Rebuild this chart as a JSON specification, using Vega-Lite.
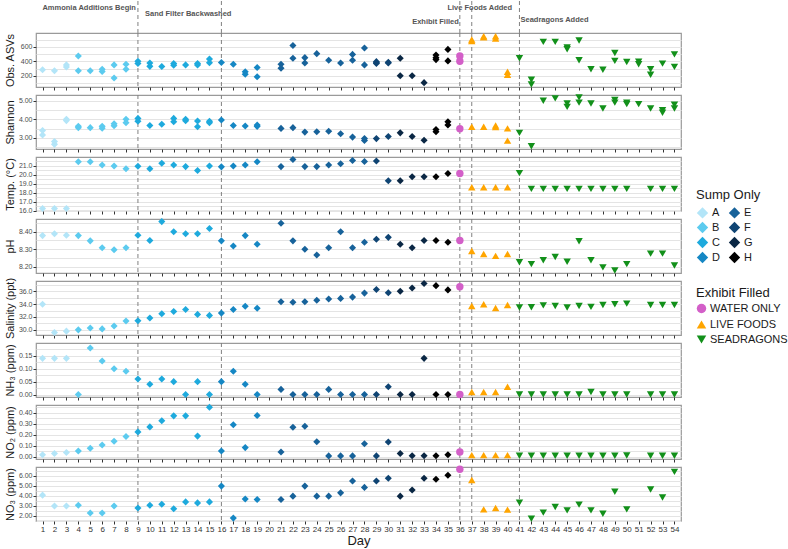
{
  "$schema": "https://vega.github.io/schema/vega-lite/v6.json",
  "padding": {"left": 3, "right": 0, "top": 0, "bottom": 0},
  "background": "white",
  "datasets": {
    "ev": [
      {"d": 9, "t": "Ammonia Additions Begin"},
      {"d": 16, "t": "Sand Filter Backwashed"},
      {"d": 36, "t": "Exhibit Filled"},
      {"d": 37, "t": "Live Foods Added"},
      {"d": 41, "t": "Seadragons Added"}
    ],
    "pts": [
      {"m":"asv","d":1,"v":282,"g":"A"},{"m":"asv","d":2,"v":268,"g":"A"},{"m":"asv","d":3,"v":320,"g":"A"},{"m":"asv","d":3,"v":350,"g":"A"},
      {"m":"asv","d":4,"v":473,"g":"B"},{"m":"asv","d":4,"v":268,"g":"B"},{"m":"asv","d":5,"v":268,"g":"B"},{"m":"asv","d":6,"v":260,"g":"B"},{"m":"asv","d":6,"v":290,"g":"B"},{"m":"asv","d":7,"v":350,"g":"B"},{"m":"asv","d":7,"v":168,"g":"B"},{"m":"asv","d":8,"v":359,"g":"B"},{"m":"asv","d":8,"v":291,"g":"B"},
      {"m":"asv","d":9,"v":400,"g":"C"},{"m":"asv","d":9,"v":370,"g":"C"},{"m":"asv","d":10,"v":375,"g":"C"},{"m":"asv","d":10,"v":330,"g":"C"},{"m":"asv","d":11,"v":327,"g":"C"},{"m":"asv","d":12,"v":370,"g":"C"},{"m":"asv","d":12,"v":345,"g":"C"},{"m":"asv","d":13,"v":350,"g":"C"},{"m":"asv","d":14,"v":370,"g":"C"},{"m":"asv","d":14,"v":350,"g":"C"},{"m":"asv","d":15,"v":430,"g":"C"},{"m":"asv","d":15,"v":380,"g":"C"},
      {"m":"asv","d":16,"v":382,"g":"D"},{"m":"asv","d":17,"v":359,"g":"D"},{"m":"asv","d":18,"v":255,"g":"D"},{"m":"asv","d":18,"v":220,"g":"D"},{"m":"asv","d":19,"v":314,"g":"D"},{"m":"asv","d":19,"v":186,"g":"D"},
      {"m":"asv","d":21,"v":359,"g":"E"},{"m":"asv","d":21,"v":305,"g":"E"},{"m":"asv","d":22,"v":618,"g":"E"},{"m":"asv","d":22,"v":441,"g":"E"},{"m":"asv","d":23,"v":450,"g":"E"},{"m":"asv","d":23,"v":377,"g":"E"},{"m":"asv","d":24,"v":505,"g":"E"},{"m":"asv","d":25,"v":414,"g":"E"},{"m":"asv","d":26,"v":377,"g":"E"},{"m":"asv","d":27,"v":495,"g":"E"},{"m":"asv","d":27,"v":414,"g":"E"},{"m":"asv","d":28,"v":582,"g":"E"},{"m":"asv","d":28,"v":350,"g":"E"},
      {"m":"asv","d":29,"v":395,"g":"F"},{"m":"asv","d":29,"v":380,"g":"F"},{"m":"asv","d":29,"v":370,"g":"F"},{"m":"asv","d":30,"v":385,"g":"F"},{"m":"asv","d":30,"v":375,"g":"F"},
      {"m":"asv","d":31,"v":441,"g":"G"},{"m":"asv","d":31,"v":200,"g":"G"},{"m":"asv","d":32,"v":200,"g":"G"},{"m":"asv","d":33,"v":105,"g":"G"},
      {"m":"asv","d":34,"v":486,"g":"H"},{"m":"asv","d":34,"v":450,"g":"H"},{"m":"asv","d":34,"v":423,"g":"H"},{"m":"asv","d":35,"v":564,"g":"H"},{"m":"asv","d":35,"v":405,"g":"H"},
      {"m":"asv","d":36,"v":473,"g":"WATER ONLY"},{"m":"asv","d":36,"v":400,"g":"WATER ONLY"},
      {"m":"asv","d":37,"v":700,"g":"LIVE FOODS"},{"m":"asv","d":37,"v":680,"g":"LIVE FOODS"},{"m":"asv","d":38,"v":745,"g":"LIVE FOODS"},{"m":"asv","d":38,"v":730,"g":"LIVE FOODS"},{"m":"asv","d":39,"v":745,"g":"LIVE FOODS"},{"m":"asv","d":39,"v":715,"g":"LIVE FOODS"},{"m":"asv","d":40,"v":255,"g":"LIVE FOODS"},{"m":"asv","d":40,"v":215,"g":"LIVE FOODS"},
      {"m":"asv","d":41,"v":441,"g":"SEADRAGONS"},{"m":"asv","d":42,"v":145,"g":"SEADRAGONS"},{"m":"asv","d":42,"v":80,"g":"SEADRAGONS"},{"m":"asv","d":43,"v":668,"g":"SEADRAGONS"},{"m":"asv","d":44,"v":668,"g":"SEADRAGONS"},{"m":"asv","d":45,"v":590,"g":"SEADRAGONS"},{"m":"asv","d":45,"v":565,"g":"SEADRAGONS"},{"m":"asv","d":46,"v":686,"g":"SEADRAGONS"},{"m":"asv","d":46,"v":414,"g":"SEADRAGONS"},{"m":"asv","d":47,"v":291,"g":"SEADRAGONS"},{"m":"asv","d":48,"v":282,"g":"SEADRAGONS"},{"m":"asv","d":49,"v":514,"g":"SEADRAGONS"},{"m":"asv","d":49,"v":405,"g":"SEADRAGONS"},{"m":"asv","d":50,"v":391,"g":"SEADRAGONS"},{"m":"asv","d":51,"v":395,"g":"SEADRAGONS"},{"m":"asv","d":51,"v":359,"g":"SEADRAGONS"},{"m":"asv","d":52,"v":291,"g":"SEADRAGONS"},{"m":"asv","d":52,"v":214,"g":"SEADRAGONS"},{"m":"asv","d":53,"v":368,"g":"SEADRAGONS"},{"m":"asv","d":54,"v":495,"g":"SEADRAGONS"},{"m":"asv","d":54,"v":323,"g":"SEADRAGONS"},

      {"m":"sh","d":1,"v":3.40,"g":"A"},{"m":"sh","d":1,"v":3.15,"g":"A"},{"m":"sh","d":2,"v":2.80,"g":"A"},{"m":"sh","d":2,"v":2.65,"g":"A"},{"m":"sh","d":3,"v":4.00,"g":"A"},{"m":"sh","d":3,"v":3.93,"g":"A"},
      {"m":"sh","d":4,"v":3.62,"g":"B"},{"m":"sh","d":4,"v":3.55,"g":"B"},{"m":"sh","d":5,"v":3.55,"g":"B"},{"m":"sh","d":6,"v":3.62,"g":"B"},{"m":"sh","d":6,"v":3.52,"g":"B"},{"m":"sh","d":7,"v":3.76,"g":"B"},{"m":"sh","d":7,"v":3.65,"g":"B"},{"m":"sh","d":8,"v":4.00,"g":"B"},{"m":"sh","d":8,"v":3.82,"g":"B"},
      {"m":"sh","d":9,"v":4.05,"g":"C"},{"m":"sh","d":9,"v":3.90,"g":"C"},{"m":"sh","d":10,"v":3.67,"g":"C"},{"m":"sh","d":11,"v":3.73,"g":"C"},{"m":"sh","d":12,"v":4.05,"g":"C"},{"m":"sh","d":12,"v":3.87,"g":"C"},{"m":"sh","d":13,"v":4.00,"g":"C"},{"m":"sh","d":13,"v":3.92,"g":"C"},{"m":"sh","d":14,"v":3.91,"g":"C"},{"m":"sh","d":14,"v":3.60,"g":"C"},{"m":"sh","d":15,"v":3.90,"g":"C"},{"m":"sh","d":15,"v":3.82,"g":"C"},
      {"m":"sh","d":16,"v":3.96,"g":"D"},{"m":"sh","d":17,"v":3.67,"g":"D"},{"m":"sh","d":18,"v":3.64,"g":"D"},{"m":"sh","d":19,"v":3.69,"g":"D"},{"m":"sh","d":19,"v":3.62,"g":"D"},
      {"m":"sh","d":21,"v":3.51,"g":"E"},{"m":"sh","d":22,"v":3.55,"g":"E"},{"m":"sh","d":23,"v":3.31,"g":"E"},{"m":"sh","d":24,"v":3.33,"g":"E"},{"m":"sh","d":25,"v":3.36,"g":"E"},{"m":"sh","d":26,"v":3.22,"g":"E"},{"m":"sh","d":27,"v":3.04,"g":"E"},{"m":"sh","d":28,"v":2.96,"g":"E"},{"m":"sh","d":28,"v":2.86,"g":"E"},
      {"m":"sh","d":29,"v":2.96,"g":"F"},{"m":"sh","d":30,"v":3.07,"g":"F"},{"m":"sh","d":31,"v":3.27,"g":"G"},{"m":"sh","d":32,"v":3.07,"g":"G"},{"m":"sh","d":33,"v":2.87,"g":"G"},
      {"m":"sh","d":34,"v":3.45,"g":"H"},{"m":"sh","d":34,"v":3.33,"g":"H"},{"m":"sh","d":35,"v":3.87,"g":"H"},{"m":"sh","d":35,"v":3.69,"g":"H"},
      {"m":"sh","d":36,"v":3.49,"g":"WATER ONLY"},
      {"m":"sh","d":37,"v":3.60,"g":"LIVE FOODS"},{"m":"sh","d":38,"v":3.60,"g":"LIVE FOODS"},{"m":"sh","d":39,"v":3.67,"g":"LIVE FOODS"},{"m":"sh","d":39,"v":3.58,"g":"LIVE FOODS"},{"m":"sh","d":40,"v":3.51,"g":"LIVE FOODS"},{"m":"sh","d":40,"v":2.85,"g":"LIVE FOODS"},
      {"m":"sh","d":41,"v":3.27,"g":"SEADRAGONS"},{"m":"sh","d":42,"v":2.55,"g":"SEADRAGONS"},{"m":"sh","d":43,"v":5.00,"g":"SEADRAGONS"},{"m":"sh","d":44,"v":5.13,"g":"SEADRAGONS"},{"m":"sh","d":45,"v":4.85,"g":"SEADRAGONS"},{"m":"sh","d":45,"v":4.67,"g":"SEADRAGONS"},{"m":"sh","d":46,"v":5.18,"g":"SEADRAGONS"},{"m":"sh","d":46,"v":4.90,"g":"SEADRAGONS"},{"m":"sh","d":47,"v":4.85,"g":"SEADRAGONS"},{"m":"sh","d":48,"v":4.58,"g":"SEADRAGONS"},{"m":"sh","d":49,"v":5.04,"g":"SEADRAGONS"},{"m":"sh","d":49,"v":4.90,"g":"SEADRAGONS"},{"m":"sh","d":50,"v":4.90,"g":"SEADRAGONS"},{"m":"sh","d":50,"v":4.82,"g":"SEADRAGONS"},{"m":"sh","d":51,"v":4.82,"g":"SEADRAGONS"},{"m":"sh","d":52,"v":4.58,"g":"SEADRAGONS"},{"m":"sh","d":53,"v":4.49,"g":"SEADRAGONS"},{"m":"sh","d":53,"v":4.35,"g":"SEADRAGONS"},{"m":"sh","d":54,"v":4.78,"g":"SEADRAGONS"},{"m":"sh","d":54,"v":4.58,"g":"SEADRAGONS"},

      {"m":"tp","d":1,"v":16.25,"g":"A"},{"m":"tp","d":2,"v":16.25,"g":"A"},{"m":"tp","d":3,"v":16.25,"g":"A"},
      {"m":"tp","d":4,"v":21.47,"g":"B"},{"m":"tp","d":5,"v":21.47,"g":"B"},{"m":"tp","d":6,"v":21.1,"g":"B"},{"m":"tp","d":7,"v":21.0,"g":"B"},{"m":"tp","d":8,"v":20.7,"g":"B"},
      {"m":"tp","d":9,"v":20.96,"g":"C"},{"m":"tp","d":10,"v":20.7,"g":"C"},{"m":"tp","d":11,"v":21.3,"g":"C"},{"m":"tp","d":12,"v":21.1,"g":"C"},{"m":"tp","d":13,"v":20.93,"g":"C"},{"m":"tp","d":14,"v":20.5,"g":"C"},{"m":"tp","d":15,"v":21.0,"g":"C"},
      {"m":"tp","d":16,"v":20.9,"g":"D"},{"m":"tp","d":17,"v":21.0,"g":"D"},{"m":"tp","d":18,"v":21.1,"g":"D"},{"m":"tp","d":19,"v":21.47,"g":"D"},
      {"m":"tp","d":21,"v":20.93,"g":"E"},{"m":"tp","d":22,"v":21.73,"g":"E"},{"m":"tp","d":23,"v":20.93,"g":"E"},{"m":"tp","d":24,"v":20.93,"g":"E"},{"m":"tp","d":25,"v":21.1,"g":"E"},{"m":"tp","d":26,"v":21.25,"g":"E"},{"m":"tp","d":27,"v":21.6,"g":"E"},{"m":"tp","d":28,"v":21.5,"g":"E"},
      {"m":"tp","d":29,"v":21.55,"g":"F"},{"m":"tp","d":30,"v":19.36,"g":"F"},{"m":"tp","d":31,"v":19.36,"g":"G"},{"m":"tp","d":32,"v":19.8,"g":"G"},{"m":"tp","d":33,"v":19.8,"g":"G"},
      {"m":"tp","d":34,"v":19.8,"g":"H"},{"m":"tp","d":35,"v":20.16,"g":"H"},
      {"m":"tp","d":36,"v":20.16,"g":"WATER ONLY"},
      {"m":"tp","d":37,"v":18.63,"g":"LIVE FOODS"},{"m":"tp","d":38,"v":18.63,"g":"LIVE FOODS"},{"m":"tp","d":39,"v":18.63,"g":"LIVE FOODS"},{"m":"tp","d":40,"v":18.63,"g":"LIVE FOODS"},
      {"m":"tp","d":41,"v":20.2,"g":"SEADRAGONS"},{"m":"tp","d":42,"v":18.45,"g":"SEADRAGONS"},{"m":"tp","d":43,"v":18.45,"g":"SEADRAGONS"},{"m":"tp","d":44,"v":18.45,"g":"SEADRAGONS"},{"m":"tp","d":45,"v":18.45,"g":"SEADRAGONS"},{"m":"tp","d":46,"v":18.45,"g":"SEADRAGONS"},{"m":"tp","d":47,"v":18.45,"g":"SEADRAGONS"},{"m":"tp","d":48,"v":18.45,"g":"SEADRAGONS"},{"m":"tp","d":49,"v":18.45,"g":"SEADRAGONS"},{"m":"tp","d":50,"v":18.45,"g":"SEADRAGONS"},{"m":"tp","d":52,"v":18.45,"g":"SEADRAGONS"},{"m":"tp","d":53,"v":18.45,"g":"SEADRAGONS"},{"m":"tp","d":54,"v":18.45,"g":"SEADRAGONS"},

      {"m":"ph","d":1,"v":8.378,"g":"A"},{"m":"ph","d":2,"v":8.389,"g":"A"},{"m":"ph","d":3,"v":8.38,"g":"A"},
      {"m":"ph","d":4,"v":8.378,"g":"B"},{"m":"ph","d":5,"v":8.348,"g":"B"},{"m":"ph","d":6,"v":8.308,"g":"B"},{"m":"ph","d":7,"v":8.297,"g":"B"},{"m":"ph","d":8,"v":8.308,"g":"B"},
      {"m":"ph","d":9,"v":8.38,"g":"C"},{"m":"ph","d":10,"v":8.35,"g":"C"},{"m":"ph","d":11,"v":8.458,"g":"C"},{"m":"ph","d":12,"v":8.40,"g":"C"},{"m":"ph","d":13,"v":8.389,"g":"C"},{"m":"ph","d":14,"v":8.389,"g":"C"},{"m":"ph","d":15,"v":8.419,"g":"C"},
      {"m":"ph","d":16,"v":8.348,"g":"D"},{"m":"ph","d":17,"v":8.318,"g":"D"},{"m":"ph","d":18,"v":8.378,"g":"D"},{"m":"ph","d":19,"v":8.329,"g":"D"},
      {"m":"ph","d":21,"v":8.449,"g":"E"},{"m":"ph","d":22,"v":8.348,"g":"E"},{"m":"ph","d":23,"v":8.30,"g":"E"},{"m":"ph","d":24,"v":8.267,"g":"E"},{"m":"ph","d":25,"v":8.308,"g":"E"},{"m":"ph","d":26,"v":8.40,"g":"E"},{"m":"ph","d":27,"v":8.308,"g":"E"},{"m":"ph","d":28,"v":8.34,"g":"E"},
      {"m":"ph","d":29,"v":8.357,"g":"F"},{"m":"ph","d":30,"v":8.368,"g":"F"},{"m":"ph","d":31,"v":8.329,"g":"G"},{"m":"ph","d":32,"v":8.308,"g":"G"},{"m":"ph","d":33,"v":8.35,"g":"G"},
      {"m":"ph","d":34,"v":8.35,"g":"H"},{"m":"ph","d":35,"v":8.34,"g":"H"},
      {"m":"ph","d":36,"v":8.35,"g":"WATER ONLY"},
      {"m":"ph","d":37,"v":8.29,"g":"LIVE FOODS"},{"m":"ph","d":38,"v":8.273,"g":"LIVE FOODS"},{"m":"ph","d":39,"v":8.262,"g":"LIVE FOODS"},{"m":"ph","d":40,"v":8.273,"g":"LIVE FOODS"},
      {"m":"ph","d":41,"v":8.226,"g":"SEADRAGONS"},{"m":"ph","d":42,"v":8.215,"g":"SEADRAGONS"},{"m":"ph","d":43,"v":8.237,"g":"SEADRAGONS"},{"m":"ph","d":44,"v":8.256,"g":"SEADRAGONS"},{"m":"ph","d":45,"v":8.228,"g":"SEADRAGONS"},{"m":"ph","d":46,"v":8.346,"g":"SEADRAGONS"},{"m":"ph","d":47,"v":8.237,"g":"SEADRAGONS"},{"m":"ph","d":48,"v":8.196,"g":"SEADRAGONS"},{"m":"ph","d":49,"v":8.178,"g":"SEADRAGONS"},{"m":"ph","d":50,"v":8.215,"g":"SEADRAGONS"},{"m":"ph","d":52,"v":8.275,"g":"SEADRAGONS"},{"m":"ph","d":53,"v":8.275,"g":"SEADRAGONS"},{"m":"ph","d":54,"v":8.207,"g":"SEADRAGONS"},

      {"m":"sal","d":1,"v":33.97,"g":"A"},{"m":"sal","d":2,"v":29.6,"g":"A"},{"m":"sal","d":3,"v":29.8,"g":"A"},
      {"m":"sal","d":4,"v":30.0,"g":"B"},{"m":"sal","d":5,"v":30.3,"g":"B"},{"m":"sal","d":6,"v":30.15,"g":"B"},{"m":"sal","d":7,"v":30.6,"g":"B"},{"m":"sal","d":8,"v":31.37,"g":"B"},
      {"m":"sal","d":9,"v":31.42,"g":"C"},{"m":"sal","d":10,"v":31.83,"g":"C"},{"m":"sal","d":11,"v":32.5,"g":"C"},{"m":"sal","d":12,"v":32.85,"g":"C"},{"m":"sal","d":13,"v":33.15,"g":"C"},{"m":"sal","d":14,"v":32.4,"g":"C"},{"m":"sal","d":15,"v":32.24,"g":"C"},
      {"m":"sal","d":16,"v":32.6,"g":"D"},{"m":"sal","d":17,"v":33.15,"g":"D"},{"m":"sal","d":18,"v":33.66,"g":"D"},{"m":"sal","d":19,"v":33.36,"g":"D"},
      {"m":"sal","d":21,"v":34.37,"g":"E"},{"m":"sal","d":22,"v":34.27,"g":"E"},{"m":"sal","d":23,"v":34.37,"g":"E"},{"m":"sal","d":24,"v":34.58,"g":"E"},{"m":"sal","d":25,"v":34.78,"g":"E"},{"m":"sal","d":26,"v":34.88,"g":"E"},{"m":"sal","d":27,"v":35.08,"g":"E"},{"m":"sal","d":28,"v":35.7,"g":"E"},
      {"m":"sal","d":29,"v":36.25,"g":"F"},{"m":"sal","d":30,"v":35.75,"g":"F"},{"m":"sal","d":31,"v":36.0,"g":"G"},{"m":"sal","d":32,"v":36.5,"g":"G"},{"m":"sal","d":33,"v":37.2,"g":"G"},
      {"m":"sal","d":34,"v":36.86,"g":"H"},{"m":"sal","d":35,"v":36.2,"g":"H"},
      {"m":"sal","d":36,"v":36.7,"g":"WATER ONLY"},
      {"m":"sal","d":37,"v":33.7,"g":"LIVE FOODS"},{"m":"sal","d":38,"v":33.97,"g":"LIVE FOODS"},{"m":"sal","d":39,"v":33.4,"g":"LIVE FOODS"},{"m":"sal","d":40,"v":33.86,"g":"LIVE FOODS"},
      {"m":"sal","d":41,"v":33.46,"g":"SEADRAGONS"},{"m":"sal","d":42,"v":33.5,"g":"SEADRAGONS"},{"m":"sal","d":43,"v":33.8,"g":"SEADRAGONS"},{"m":"sal","d":44,"v":33.7,"g":"SEADRAGONS"},{"m":"sal","d":45,"v":33.46,"g":"SEADRAGONS"},{"m":"sal","d":46,"v":33.7,"g":"SEADRAGONS"},{"m":"sal","d":47,"v":33.56,"g":"SEADRAGONS"},{"m":"sal","d":48,"v":33.86,"g":"SEADRAGONS"},{"m":"sal","d":49,"v":33.97,"g":"SEADRAGONS"},{"m":"sal","d":50,"v":34.07,"g":"SEADRAGONS"},{"m":"sal","d":52,"v":33.86,"g":"SEADRAGONS"},{"m":"sal","d":53,"v":33.86,"g":"SEADRAGONS"},{"m":"sal","d":54,"v":33.86,"g":"SEADRAGONS"},

      {"m":"nh3","d":1,"v":0.14,"g":"A"},{"m":"nh3","d":2,"v":0.14,"g":"A"},{"m":"nh3","d":3,"v":0.14,"g":"A"},
      {"m":"nh3","d":4,"v":0.0,"g":"B"},{"m":"nh3","d":5,"v":0.18,"g":"B"},{"m":"nh3","d":6,"v":0.13,"g":"B"},{"m":"nh3","d":7,"v":0.10,"g":"B"},{"m":"nh3","d":8,"v":0.09,"g":"B"},
      {"m":"nh3","d":9,"v":0.06,"g":"C"},{"m":"nh3","d":10,"v":0.04,"g":"C"},{"m":"nh3","d":11,"v":0.06,"g":"C"},{"m":"nh3","d":12,"v":0.05,"g":"C"},{"m":"nh3","d":13,"v":0.0,"g":"C"},{"m":"nh3","d":14,"v":0.05,"g":"C"},{"m":"nh3","d":15,"v":0.0,"g":"C"},
      {"m":"nh3","d":16,"v":0.05,"g":"D"},{"m":"nh3","d":17,"v":0.09,"g":"D"},{"m":"nh3","d":18,"v":0.04,"g":"D"},{"m":"nh3","d":19,"v":0.0,"g":"D"},
      {"m":"nh3","d":21,"v":0.02,"g":"E"},{"m":"nh3","d":22,"v":0.0,"g":"E"},{"m":"nh3","d":23,"v":0.0,"g":"E"},{"m":"nh3","d":24,"v":0.0,"g":"E"},{"m":"nh3","d":25,"v":0.02,"g":"E"},{"m":"nh3","d":26,"v":0.0,"g":"E"},{"m":"nh3","d":27,"v":0.0,"g":"E"},{"m":"nh3","d":28,"v":0.0,"g":"E"},
      {"m":"nh3","d":29,"v":0.0,"g":"F"},{"m":"nh3","d":30,"v":0.03,"g":"F"},{"m":"nh3","d":31,"v":0.0,"g":"G"},{"m":"nh3","d":32,"v":0.0,"g":"G"},{"m":"nh3","d":33,"v":0.14,"g":"G"},
      {"m":"nh3","d":34,"v":0.0,"g":"H"},{"m":"nh3","d":35,"v":0.0,"g":"H"},
      {"m":"nh3","d":36,"v":0.0,"g":"WATER ONLY"},
      {"m":"nh3","d":37,"v":0.01,"g":"LIVE FOODS"},{"m":"nh3","d":38,"v":0.01,"g":"LIVE FOODS"},{"m":"nh3","d":39,"v":0.01,"g":"LIVE FOODS"},{"m":"nh3","d":40,"v":0.03,"g":"LIVE FOODS"},
      {"m":"nh3","d":41,"v":0.0,"g":"SEADRAGONS"},{"m":"nh3","d":42,"v":0.0,"g":"SEADRAGONS"},{"m":"nh3","d":43,"v":0.0,"g":"SEADRAGONS"},{"m":"nh3","d":44,"v":0.0,"g":"SEADRAGONS"},{"m":"nh3","d":45,"v":0.0,"g":"SEADRAGONS"},{"m":"nh3","d":46,"v":0.0,"g":"SEADRAGONS"},{"m":"nh3","d":47,"v":0.01,"g":"SEADRAGONS"},{"m":"nh3","d":48,"v":0.0,"g":"SEADRAGONS"},{"m":"nh3","d":49,"v":0.0,"g":"SEADRAGONS"},{"m":"nh3","d":50,"v":0.0,"g":"SEADRAGONS"},{"m":"nh3","d":52,"v":0.0,"g":"SEADRAGONS"},{"m":"nh3","d":53,"v":0.0,"g":"SEADRAGONS"},{"m":"nh3","d":54,"v":0.0,"g":"SEADRAGONS"},

      {"m":"no2","d":1,"v":0.018,"g":"A"},{"m":"no2","d":2,"v":0.03,"g":"A"},{"m":"no2","d":3,"v":0.038,"g":"A"},
      {"m":"no2","d":4,"v":0.053,"g":"B"},{"m":"no2","d":5,"v":0.077,"g":"B"},{"m":"no2","d":6,"v":0.107,"g":"B"},{"m":"no2","d":7,"v":0.14,"g":"B"},{"m":"no2","d":8,"v":0.184,"g":"B"},
      {"m":"no2","d":9,"v":0.225,"g":"C"},{"m":"no2","d":10,"v":0.27,"g":"C"},{"m":"no2","d":11,"v":0.326,"g":"C"},{"m":"no2","d":12,"v":0.37,"g":"C"},{"m":"no2","d":13,"v":0.37,"g":"C"},{"m":"no2","d":14,"v":0.187,"g":"C"},{"m":"no2","d":15,"v":0.447,"g":"C"},
      {"m":"no2","d":16,"v":0.053,"g":"D"},{"m":"no2","d":17,"v":0.29,"g":"D"},{"m":"no2","d":18,"v":0.083,"g":"D"},{"m":"no2","d":19,"v":0.373,"g":"D"},
      {"m":"no2","d":21,"v":0.044,"g":"E"},{"m":"no2","d":22,"v":0.267,"g":"E"},{"m":"no2","d":23,"v":0.276,"g":"E"},{"m":"no2","d":24,"v":0.136,"g":"E"},{"m":"no2","d":25,"v":0.008,"g":"E"},{"m":"no2","d":26,"v":0.008,"g":"E"},{"m":"no2","d":27,"v":0.008,"g":"E"},{"m":"no2","d":28,"v":0.118,"g":"E"},
      {"m":"no2","d":29,"v":0.008,"g":"F"},{"m":"no2","d":30,"v":0.133,"g":"F"},{"m":"no2","d":31,"v":0.03,"g":"G"},{"m":"no2","d":32,"v":0.01,"g":"G"},{"m":"no2","d":33,"v":0.01,"g":"G"},
      {"m":"no2","d":34,"v":0.01,"g":"H"},{"m":"no2","d":35,"v":0.018,"g":"H"},
      {"m":"no2","d":36,"v":0.044,"g":"WATER ONLY"},
      {"m":"no2","d":37,"v":0.015,"g":"LIVE FOODS"},{"m":"no2","d":38,"v":0.015,"g":"LIVE FOODS"},{"m":"no2","d":39,"v":0.015,"g":"LIVE FOODS"},{"m":"no2","d":40,"v":0.015,"g":"LIVE FOODS"},
      {"m":"no2","d":41,"v":0.01,"g":"SEADRAGONS"},{"m":"no2","d":42,"v":0.01,"g":"SEADRAGONS"},{"m":"no2","d":43,"v":0.01,"g":"SEADRAGONS"},{"m":"no2","d":44,"v":0.01,"g":"SEADRAGONS"},{"m":"no2","d":45,"v":0.01,"g":"SEADRAGONS"},{"m":"no2","d":46,"v":0.01,"g":"SEADRAGONS"},{"m":"no2","d":47,"v":0.01,"g":"SEADRAGONS"},{"m":"no2","d":48,"v":0.01,"g":"SEADRAGONS"},{"m":"no2","d":49,"v":0.01,"g":"SEADRAGONS"},{"m":"no2","d":50,"v":0.012,"g":"SEADRAGONS"},{"m":"no2","d":52,"v":0.01,"g":"SEADRAGONS"},{"m":"no2","d":53,"v":0.01,"g":"SEADRAGONS"},{"m":"no2","d":54,"v":0.01,"g":"SEADRAGONS"},

      {"m":"no3","d":1,"v":4.07,"g":"A"},{"m":"no3","d":2,"v":2.98,"g":"A"},{"m":"no3","d":3,"v":2.98,"g":"A"},
      {"m":"no3","d":4,"v":3.05,"g":"B"},{"m":"no3","d":5,"v":2.27,"g":"B"},{"m":"no3","d":6,"v":2.27,"g":"B"},{"m":"no3","d":7,"v":2.98,"g":"B"},
      {"m":"no3","d":9,"v":2.78,"g":"C"},{"m":"no3","d":10,"v":3.05,"g":"C"},{"m":"no3","d":11,"v":3.15,"g":"C"},{"m":"no3","d":12,"v":2.71,"g":"C"},{"m":"no3","d":13,"v":3.39,"g":"C"},{"m":"no3","d":14,"v":3.29,"g":"C"},{"m":"no3","d":15,"v":3.39,"g":"C"},
      {"m":"no3","d":16,"v":4.98,"g":"D"},{"m":"no3","d":17,"v":1.76,"g":"D"},{"m":"no3","d":18,"v":3.69,"g":"D"},{"m":"no3","d":19,"v":3.63,"g":"D"},
      {"m":"no3","d":21,"v":3.63,"g":"E"},{"m":"no3","d":22,"v":3.97,"g":"E"},{"m":"no3","d":23,"v":4.98,"g":"E"},{"m":"no3","d":24,"v":3.97,"g":"E"},{"m":"no3","d":25,"v":3.97,"g":"E"},{"m":"no3","d":26,"v":4.3,"g":"E"},{"m":"no3","d":27,"v":5.49,"g":"E"},{"m":"no3","d":28,"v":4.85,"g":"E"},
      {"m":"no3","d":29,"v":5.49,"g":"F"},{"m":"no3","d":30,"v":5.76,"g":"F"},{"m":"no3","d":31,"v":3.97,"g":"G"},{"m":"no3","d":32,"v":4.58,"g":"G"},{"m":"no3","d":33,"v":5.76,"g":"G"},
      {"m":"no3","d":34,"v":5.66,"g":"H"},{"m":"no3","d":35,"v":6.07,"g":"H"},
      {"m":"no3","d":36,"v":6.68,"g":"WATER ONLY"},
      {"m":"no3","d":37,"v":5.59,"g":"LIVE FOODS"},{"m":"no3","d":38,"v":2.64,"g":"LIVE FOODS"},{"m":"no3","d":39,"v":2.78,"g":"LIVE FOODS"},{"m":"no3","d":40,"v":2.61,"g":"LIVE FOODS"},
      {"m":"no3","d":41,"v":3.32,"g":"SEADRAGONS"},{"m":"no3","d":42,"v":1.69,"g":"SEADRAGONS"},{"m":"no3","d":43,"v":2.31,"g":"SEADRAGONS"},{"m":"no3","d":44,"v":2.88,"g":"SEADRAGONS"},{"m":"no3","d":45,"v":2.54,"g":"SEADRAGONS"},{"m":"no3","d":46,"v":3.12,"g":"SEADRAGONS"},{"m":"no3","d":47,"v":2.54,"g":"SEADRAGONS"},{"m":"no3","d":48,"v":2.2,"g":"SEADRAGONS"},{"m":"no3","d":49,"v":4.41,"g":"SEADRAGONS"},{"m":"no3","d":50,"v":2.64,"g":"SEADRAGONS"},{"m":"no3","d":52,"v":4.64,"g":"SEADRAGONS"},{"m":"no3","d":53,"v":3.83,"g":"SEADRAGONS"},{"m":"no3","d":54,"v":6.41,"g":"SEADRAGONS"}
    ]
  },
  "spacing": 0,
  "bounds": "flush",
  "vconcat": [
    {
      "width": 645, "height": 32,
      "view": {"stroke": null},
      "data": {"name": "ev"},
      "encoding": {"x": {"field": "d", "type": "quantitative", "scale": {"domain": [0.45, 54.55], "nice": false}, "axis": null}},
      "layer": [
        {"mark": {"type": "rule", "strokeDash": [4, 3], "color": "#808080", "strokeWidth": 1}},
        {"transform": [{"filter": "datum.d == 9"}], "mark": {"type": "text", "align": "right", "baseline": "middle", "dx": -2, "dy": -9, "fontSize": 7.5, "fontWeight": "bold", "color": "#555555"}, "encoding": {"text": {"field": "t"}}},
        {"transform": [{"filter": "datum.d == 16"}], "mark": {"type": "text", "align": "right", "baseline": "middle", "dx": 10, "dy": -3, "fontSize": 7.5, "fontWeight": "bold", "color": "#555555"}, "encoding": {"text": {"field": "t"}}},
        {"transform": [{"filter": "datum.d == 36"}], "mark": {"type": "text", "align": "right", "baseline": "middle", "dx": -1, "dy": 5, "fontSize": 7.5, "fontWeight": "bold", "color": "#555555"}, "encoding": {"text": {"field": "t"}}},
        {"transform": [{"filter": "datum.d == 37"}], "mark": {"type": "text", "align": "center", "baseline": "middle", "dx": 8, "dy": -9, "fontSize": 7.5, "fontWeight": "bold", "color": "#555555"}, "encoding": {"text": {"field": "t"}}},
        {"transform": [{"filter": "datum.d == 41"}], "mark": {"type": "text", "align": "left", "baseline": "middle", "dx": 1, "dy": 3, "fontSize": 7.5, "fontWeight": "bold", "color": "#555555"}, "encoding": {"text": {"field": "t"}}}
      ]
    },
    {
      "spacing": 8,
      "bounds": "flush",
      "vconcat": [
        {
          "width": 645, "height": 54,
          "encoding": {"x": {"field": "d", "type": "quantitative", "scale": {"domain": [0.45, 54.55], "nice": false}, "axis": {"values": [1,2,3,4,5,6,7,8,9,10,11,12,13,14,15,16,17,18,19,20,21,22,23,24,25,26,27,28,29,30,31,32,33,34,35,36,37,38,39,40,41,42,43,44,45,46,47,48,49,50,51,52,53,54], "labels": false, "title": null, "grid": false, "tickSize": 3}}},
          "layer": [
            {"data": {"name": "ev"}, "mark": {"type": "rule", "strokeDash": [4, 3], "color": "#808080", "strokeWidth": 1}},
            {"data": {"name": "pts"}, "transform": [{"filter": "datum.m == 'asv' && length(datum.g) == 1"}],
             "mark": {"type": "point", "filled": true, "shape": "diamond", "size": 50, "opacity": 1},
             "encoding": {
               "y": {"field": "v", "type": "quantitative", "scale": {"domain": [45, 790], "nice": false, "zero": false},
                 "axis": {"title": "Obs. ASVs", "values": [200,400,600], "format": "d", "labelOverlap": false, "labelBound": false}},
               "color": {"field": "g", "type": "nominal", "scale": {"domain": ["A","B","C","D","E","F","G","H"], "range": ["#b3e5f8","#5ccbef","#1eaadd","#1587c4","#17629a","#0f4473","#0a2744","#000000"]},
                 "legend": {"title": "Sump Only", "orient": "none", "legendX": 660, "legendY": 188, "columns": 2, "symbolType": "diamond", "symbolSize": 130, "columnPadding": 8, "rowPadding": 2, "titleFontSize": 13, "labelFontSize": 11, "titleFontWeight": "normal", "titlePadding": 4, "labelOffset": 3, "padding": 0}}}},
            {"data": {"name": "pts"}, "transform": [{"filter": "datum.m == 'asv' && length(datum.g) > 1"}],
             "mark": {"type": "point", "filled": true, "size": 55, "opacity": 1},
             "encoding": {
               "y": {"field": "v", "type": "quantitative", "axis": null},
               "fill": {"field": "g", "type": "nominal", "scale": {"domain": ["WATER ONLY","LIVE FOODS","SEADRAGONS"], "range": ["#d35fc8","#ffa500","#12901a"]},
                 "legend": {"title": "Exhibit Filled", "orient": "none", "legendX": 660, "legendY": 286, "symbolSize": 90, "rowPadding": 0, "titleFontSize": 13, "labelFontSize": 11, "titleFontWeight": "normal", "titlePadding": 3, "labelOffset": 3, "padding": 0}},
               "shape": {"field": "g", "type": "nominal", "scale": {"domain": ["WATER ONLY","LIVE FOODS","SEADRAGONS"], "range": ["circle","triangle-up","triangle-down"]},
                 "legend": {"title": "Exhibit Filled", "orient": "none", "legendX": 660, "legendY": 286, "symbolSize": 90, "rowPadding": 0, "titleFontSize": 13, "labelFontSize": 11, "titleFontWeight": "normal", "titlePadding": 3, "labelOffset": 3, "padding": 0}}}},
            {"data": {"name": "pts"}, "transform": [{"filter": "datum.m == 'asv'"}], "mark": {"type": "point", "opacity": 0},
             "encoding": {"y": {"field": "v", "type": "quantitative", "axis": {"orient": "right", "values": [100,200,300,400,500,600,700], "labels": false, "ticks": false, "title": null, "grid": true}}}}
          ],
          "resolve": {"axis": {"y": "independent"}}
        },
        {
          "width": 645, "height": 54,
          "encoding": {"x": {"field": "d", "type": "quantitative", "scale": {"domain": [0.45, 54.55], "nice": false}, "axis": {"values": [1,2,3,4,5,6,7,8,9,10,11,12,13,14,15,16,17,18,19,20,21,22,23,24,25,26,27,28,29,30,31,32,33,34,35,36,37,38,39,40,41,42,43,44,45,46,47,48,49,50,51,52,53,54], "labels": false, "title": null, "grid": false, "tickSize": 3}}},
          "layer": [
            {"data": {"name": "ev"}, "mark": {"type": "rule", "strokeDash": [4, 3], "color": "#808080", "strokeWidth": 1}},
            {"data": {"name": "pts"}, "transform": [{"filter": "datum.m == 'sh' && length(datum.g) == 1"}],
             "mark": {"type": "point", "filled": true, "shape": "diamond", "size": 50, "opacity": 1},
             "encoding": {
               "y": {"field": "v", "type": "quantitative", "scale": {"domain": [2.4, 5.31], "nice": false, "zero": false},
                 "axis": {"title": "Shannon", "values": [3,4,5], "format": ".2f", "labelOverlap": false, "labelBound": false}},
               "color": {"field": "g", "type": "nominal", "scale": {"domain": ["A","B","C","D","E","F","G","H"], "range": ["#b3e5f8","#5ccbef","#1eaadd","#1587c4","#17629a","#0f4473","#0a2744","#000000"]}}}},
            {"data": {"name": "pts"}, "transform": [{"filter": "datum.m == 'sh' && length(datum.g) > 1"}],
             "mark": {"type": "point", "filled": true, "size": 55, "opacity": 1},
             "encoding": {
               "y": {"field": "v", "type": "quantitative", "axis": null},
               "fill": {"field": "g", "type": "nominal", "scale": {"domain": ["WATER ONLY","LIVE FOODS","SEADRAGONS"], "range": ["#d35fc8","#ffa500","#12901a"]}},
               "shape": {"field": "g", "type": "nominal", "scale": {"domain": ["WATER ONLY","LIVE FOODS","SEADRAGONS"], "range": ["circle","triangle-up","triangle-down"]}}}},
            {"data": {"name": "pts"}, "transform": [{"filter": "datum.m == 'sh'"}], "mark": {"type": "point", "opacity": 0},
             "encoding": {"y": {"field": "v", "type": "quantitative", "axis": {"orient": "right", "values": [2.5,3,3.5,4,4.5,5], "labels": false, "ticks": false, "title": null, "grid": true}}}}
          ],
          "resolve": {"axis": {"y": "independent"}}
        },
        {
          "width": 645, "height": 54,
          "encoding": {"x": {"field": "d", "type": "quantitative", "scale": {"domain": [0.45, 54.55], "nice": false}, "axis": {"values": [1,2,3,4,5,6,7,8,9,10,11,12,13,14,15,16,17,18,19,20,21,22,23,24,25,26,27,28,29,30,31,32,33,34,35,36,37,38,39,40,41,42,43,44,45,46,47,48,49,50,51,52,53,54], "labels": false, "title": null, "grid": false, "tickSize": 3}}},
          "layer": [
            {"data": {"name": "ev"}, "mark": {"type": "rule", "strokeDash": [4, 3], "color": "#808080", "strokeWidth": 1}},
            {"data": {"name": "pts"}, "transform": [{"filter": "datum.m == 'tp' && length(datum.g) == 1"}],
             "mark": {"type": "point", "filled": true, "shape": "diamond", "size": 50, "opacity": 1},
             "encoding": {
               "y": {"field": "v", "type": "quantitative", "scale": {"domain": [15.98, 22.0], "nice": false, "zero": false},
                 "axis": {"title": "Temp. (°C)", "values": [16,17,18,19,20,21], "format": ".1f", "labelOverlap": false, "labelBound": false}},
               "color": {"field": "g", "type": "nominal", "scale": {"domain": ["A","B","C","D","E","F","G","H"], "range": ["#b3e5f8","#5ccbef","#1eaadd","#1587c4","#17629a","#0f4473","#0a2744","#000000"]}}}},
            {"data": {"name": "pts"}, "transform": [{"filter": "datum.m == 'tp' && length(datum.g) > 1"}],
             "mark": {"type": "point", "filled": true, "size": 55, "opacity": 1},
             "encoding": {
               "y": {"field": "v", "type": "quantitative", "axis": null},
               "fill": {"field": "g", "type": "nominal", "scale": {"domain": ["WATER ONLY","LIVE FOODS","SEADRAGONS"], "range": ["#d35fc8","#ffa500","#12901a"]}},
               "shape": {"field": "g", "type": "nominal", "scale": {"domain": ["WATER ONLY","LIVE FOODS","SEADRAGONS"], "range": ["circle","triangle-up","triangle-down"]}}}},
            {"data": {"name": "pts"}, "transform": [{"filter": "datum.m == 'tp'"}], "mark": {"type": "point", "opacity": 0},
             "encoding": {"y": {"field": "v", "type": "quantitative", "axis": {"orient": "right", "values": [16,16.5,17,17.5,18,18.5,19,19.5,20,20.5,21,21.5], "labels": false, "ticks": false, "title": null, "grid": true}}}}
          ],
          "resolve": {"axis": {"y": "independent"}}
        },
        {
          "width": 645, "height": 54,
          "encoding": {"x": {"field": "d", "type": "quantitative", "scale": {"domain": [0.45, 54.55], "nice": false}, "axis": {"values": [1,2,3,4,5,6,7,8,9,10,11,12,13,14,15,16,17,18,19,20,21,22,23,24,25,26,27,28,29,30,31,32,33,34,35,36,37,38,39,40,41,42,43,44,45,46,47,48,49,50,51,52,53,54], "labels": false, "title": null, "grid": false, "tickSize": 3}}},
          "layer": [
            {"data": {"name": "ev"}, "mark": {"type": "rule", "strokeDash": [4, 3], "color": "#808080", "strokeWidth": 1}},
            {"data": {"name": "pts"}, "transform": [{"filter": "datum.m == 'ph' && length(datum.g) == 1"}],
             "mark": {"type": "point", "filled": true, "shape": "diamond", "size": 50, "opacity": 1},
             "encoding": {
               "y": {"field": "v", "type": "quantitative", "scale": {"domain": [8.164, 8.473], "nice": false, "zero": false},
                 "axis": {"title": "pH", "values": [8.2,8.3,8.4], "format": ".2f", "labelOverlap": false, "labelBound": false}},
               "color": {"field": "g", "type": "nominal", "scale": {"domain": ["A","B","C","D","E","F","G","H"], "range": ["#b3e5f8","#5ccbef","#1eaadd","#1587c4","#17629a","#0f4473","#0a2744","#000000"]}}}},
            {"data": {"name": "pts"}, "transform": [{"filter": "datum.m == 'ph' && length(datum.g) > 1"}],
             "mark": {"type": "point", "filled": true, "size": 55, "opacity": 1},
             "encoding": {
               "y": {"field": "v", "type": "quantitative", "axis": null},
               "fill": {"field": "g", "type": "nominal", "scale": {"domain": ["WATER ONLY","LIVE FOODS","SEADRAGONS"], "range": ["#d35fc8","#ffa500","#12901a"]}},
               "shape": {"field": "g", "type": "nominal", "scale": {"domain": ["WATER ONLY","LIVE FOODS","SEADRAGONS"], "range": ["circle","triangle-up","triangle-down"]}}}},
            {"data": {"name": "pts"}, "transform": [{"filter": "datum.m == 'ph'"}], "mark": {"type": "point", "opacity": 0},
             "encoding": {"y": {"field": "v", "type": "quantitative", "axis": {"orient": "right", "values": [8.2,8.25,8.3,8.35,8.4,8.45], "labels": false, "ticks": false, "title": null, "grid": true}}}}
          ],
          "resolve": {"axis": {"y": "independent"}}
        },
        {
          "width": 645, "height": 54,
          "encoding": {"x": {"field": "d", "type": "quantitative", "scale": {"domain": [0.45, 54.55], "nice": false}, "axis": {"values": [1,2,3,4,5,6,7,8,9,10,11,12,13,14,15,16,17,18,19,20,21,22,23,24,25,26,27,28,29,30,31,32,33,34,35,36,37,38,39,40,41,42,43,44,45,46,47,48,49,50,51,52,53,54], "labels": false, "title": null, "grid": false, "tickSize": 3}}},
          "layer": [
            {"data": {"name": "ev"}, "mark": {"type": "rule", "strokeDash": [4, 3], "color": "#808080", "strokeWidth": 1}},
            {"data": {"name": "pts"}, "transform": [{"filter": "datum.m == 'sal' && length(datum.g) == 1"}],
             "mark": {"type": "point", "filled": true, "shape": "diamond", "size": 50, "opacity": 1},
             "encoding": {
               "y": {"field": "v", "type": "quantitative", "scale": {"domain": [29.2, 37.58], "nice": false, "zero": false},
                 "axis": {"title": "Salinity (ppt)", "values": [30,32,34,36], "format": ".1f", "labelOverlap": false, "labelBound": false}},
               "color": {"field": "g", "type": "nominal", "scale": {"domain": ["A","B","C","D","E","F","G","H"], "range": ["#b3e5f8","#5ccbef","#1eaadd","#1587c4","#17629a","#0f4473","#0a2744","#000000"]}}}},
            {"data": {"name": "pts"}, "transform": [{"filter": "datum.m == 'sal' && length(datum.g) > 1"}],
             "mark": {"type": "point", "filled": true, "size": 55, "opacity": 1},
             "encoding": {
               "y": {"field": "v", "type": "quantitative", "axis": null},
               "fill": {"field": "g", "type": "nominal", "scale": {"domain": ["WATER ONLY","LIVE FOODS","SEADRAGONS"], "range": ["#d35fc8","#ffa500","#12901a"]}},
               "shape": {"field": "g", "type": "nominal", "scale": {"domain": ["WATER ONLY","LIVE FOODS","SEADRAGONS"], "range": ["circle","triangle-up","triangle-down"]}}}},
            {"data": {"name": "pts"}, "transform": [{"filter": "datum.m == 'sal'"}], "mark": {"type": "point", "opacity": 0},
             "encoding": {"y": {"field": "v", "type": "quantitative", "axis": {"orient": "right", "values": [30,31,32,33,34,35,36,37], "labels": false, "ticks": false, "title": null, "grid": true}}}}
          ],
          "resolve": {"axis": {"y": "independent"}}
        },
        {
          "width": 645, "height": 54,
          "encoding": {"x": {"field": "d", "type": "quantitative", "scale": {"domain": [0.45, 54.55], "nice": false}, "axis": {"values": [1,2,3,4,5,6,7,8,9,10,11,12,13,14,15,16,17,18,19,20,21,22,23,24,25,26,27,28,29,30,31,32,33,34,35,36,37,38,39,40,41,42,43,44,45,46,47,48,49,50,51,52,53,54], "labels": false, "title": null, "grid": false, "tickSize": 3}}},
          "layer": [
            {"data": {"name": "ev"}, "mark": {"type": "rule", "strokeDash": [4, 3], "color": "#808080", "strokeWidth": 1}},
            {"data": {"name": "pts"}, "transform": [{"filter": "datum.m == 'nh3' && length(datum.g) == 1"}],
             "mark": {"type": "point", "filled": true, "shape": "diamond", "size": 50, "opacity": 1},
             "encoding": {
               "y": {"field": "v", "type": "quantitative", "scale": {"domain": [-0.0095, 0.1995], "nice": false, "zero": false},
                 "axis": {"title": "NH₃ (ppm)", "values": [0,0.05,0.1,0.15], "format": ".2f", "labelOverlap": false, "labelBound": false}},
               "color": {"field": "g", "type": "nominal", "scale": {"domain": ["A","B","C","D","E","F","G","H"], "range": ["#b3e5f8","#5ccbef","#1eaadd","#1587c4","#17629a","#0f4473","#0a2744","#000000"]}}}},
            {"data": {"name": "pts"}, "transform": [{"filter": "datum.m == 'nh3' && length(datum.g) > 1"}],
             "mark": {"type": "point", "filled": true, "size": 55, "opacity": 1},
             "encoding": {
               "y": {"field": "v", "type": "quantitative", "axis": null},
               "fill": {"field": "g", "type": "nominal", "scale": {"domain": ["WATER ONLY","LIVE FOODS","SEADRAGONS"], "range": ["#d35fc8","#ffa500","#12901a"]}},
               "shape": {"field": "g", "type": "nominal", "scale": {"domain": ["WATER ONLY","LIVE FOODS","SEADRAGONS"], "range": ["circle","triangle-up","triangle-down"]}}}},
            {"data": {"name": "pts"}, "transform": [{"filter": "datum.m == 'nh3'"}], "mark": {"type": "point", "opacity": 0},
             "encoding": {"y": {"field": "v", "type": "quantitative", "axis": {"orient": "right", "values": [0,0.025,0.05,0.075,0.1,0.125,0.15,0.175], "labels": false, "ticks": false, "title": null, "grid": true}}}}
          ],
          "resolve": {"axis": {"y": "independent"}}
        },
        {
          "width": 645, "height": 54,
          "encoding": {"x": {"field": "d", "type": "quantitative", "scale": {"domain": [0.45, 54.55], "nice": false}, "axis": {"values": [1,2,3,4,5,6,7,8,9,10,11,12,13,14,15,16,17,18,19,20,21,22,23,24,25,26,27,28,29,30,31,32,33,34,35,36,37,38,39,40,41,42,43,44,45,46,47,48,49,50,51,52,53,54], "labels": false, "title": null, "grid": false, "tickSize": 3}}},
          "layer": [
            {"data": {"name": "ev"}, "mark": {"type": "rule", "strokeDash": [4, 3], "color": "#808080", "strokeWidth": 1}},
            {"data": {"name": "pts"}, "transform": [{"filter": "datum.m == 'no2' && length(datum.g) == 1"}],
             "mark": {"type": "point", "filled": true, "shape": "diamond", "size": 50, "opacity": 1},
             "encoding": {
               "y": {"field": "v", "type": "quantitative", "scale": {"domain": [-0.02, 0.468], "nice": false, "zero": false},
                 "axis": {"title": "NO₂ (ppm)", "values": [0,0.1,0.2,0.3,0.4], "format": ".2f", "labelOverlap": false, "labelBound": false}},
               "color": {"field": "g", "type": "nominal", "scale": {"domain": ["A","B","C","D","E","F","G","H"], "range": ["#b3e5f8","#5ccbef","#1eaadd","#1587c4","#17629a","#0f4473","#0a2744","#000000"]}}}},
            {"data": {"name": "pts"}, "transform": [{"filter": "datum.m == 'no2' && length(datum.g) > 1"}],
             "mark": {"type": "point", "filled": true, "size": 55, "opacity": 1},
             "encoding": {
               "y": {"field": "v", "type": "quantitative", "axis": null},
               "fill": {"field": "g", "type": "nominal", "scale": {"domain": ["WATER ONLY","LIVE FOODS","SEADRAGONS"], "range": ["#d35fc8","#ffa500","#12901a"]}},
               "shape": {"field": "g", "type": "nominal", "scale": {"domain": ["WATER ONLY","LIVE FOODS","SEADRAGONS"], "range": ["circle","triangle-up","triangle-down"]}}}},
            {"data": {"name": "pts"}, "transform": [{"filter": "datum.m == 'no2'"}], "mark": {"type": "point", "opacity": 0},
             "encoding": {"y": {"field": "v", "type": "quantitative", "axis": {"orient": "right", "values": [0,0.05,0.1,0.15,0.2,0.25,0.3,0.35,0.4,0.45], "labels": false, "ticks": false, "title": null, "grid": true}}}}
          ],
          "resolve": {"axis": {"y": "independent"}}
        },
        {
          "width": 645, "height": 54,
          "encoding": {"x": {"field": "d", "type": "quantitative", "scale": {"domain": [0.45, 54.55], "nice": false}, "axis": {"values": [1,2,3,4,5,6,7,8,9,10,11,12,13,14,15,16,17,18,19,20,21,22,23,24,25,26,27,28,29,30,31,32,33,34,35,36,37,38,39,40,41,42,43,44,45,46,47,48,49,50,51,52,53,54], "labels": true, "labelFontSize": 8, "labelColor": "#333333", "labelPadding": 1, "labelOverlap": false, "labelBound": false, "title": "Day", "titleFontSize": 13, "titlePadding": 1, "grid": false, "tickSize": 3}}},
          "layer": [
            {"data": {"name": "ev"}, "mark": {"type": "rule", "strokeDash": [4, 3], "color": "#808080", "strokeWidth": 1}},
            {"data": {"name": "pts"}, "transform": [{"filter": "datum.m == 'no3' && length(datum.g) == 1"}],
             "mark": {"type": "point", "filled": true, "shape": "diamond", "size": 50, "opacity": 1},
             "encoding": {
               "y": {"field": "v", "type": "quantitative", "scale": {"domain": [1.47, 6.9], "nice": false, "zero": false},
                 "axis": {"title": "NO₃ (ppm)", "values": [2,3,4,5,6], "format": ".2f", "labelOverlap": false, "labelBound": false}},
               "color": {"field": "g", "type": "nominal", "scale": {"domain": ["A","B","C","D","E","F","G","H"], "range": ["#b3e5f8","#5ccbef","#1eaadd","#1587c4","#17629a","#0f4473","#0a2744","#000000"]}}}},
            {"data": {"name": "pts"}, "transform": [{"filter": "datum.m == 'no3' && length(datum.g) > 1"}],
             "mark": {"type": "point", "filled": true, "size": 55, "opacity": 1},
             "encoding": {
               "y": {"field": "v", "type": "quantitative", "axis": null},
               "fill": {"field": "g", "type": "nominal", "scale": {"domain": ["WATER ONLY","LIVE FOODS","SEADRAGONS"], "range": ["#d35fc8","#ffa500","#12901a"]}},
               "shape": {"field": "g", "type": "nominal", "scale": {"domain": ["WATER ONLY","LIVE FOODS","SEADRAGONS"], "range": ["circle","triangle-up","triangle-down"]}}}},
            {"data": {"name": "pts"}, "transform": [{"filter": "datum.m == 'no3'"}], "mark": {"type": "point", "opacity": 0},
             "encoding": {"y": {"field": "v", "type": "quantitative", "axis": {"orient": "right", "values": [1.5,2,2.5,3,3.5,4,4.5,5,5.5,6,6.5], "labels": false, "ticks": false, "title": null, "grid": true}}}}
          ],
          "resolve": {"axis": {"y": "independent"}}
        }
      ]
    }
  ],
  "config": {
    "font": "Liberation Sans",
    "view": {"stroke": "#9a9a9a", "strokeWidth": 1.2},
    "axis": {"domain": false, "gridColor": "#e4e4e4", "gridWidth": 1, "tickColor": "#333333", "tickSize": 3, "labelColor": "#4d4d4d", "labelFontSize": 7, "labelPadding": 1, "labelOverlap": false, "labelFlush": false, "titleColor": "#1a1a1a", "titleFontWeight": "normal", "titleFontSize": 11},
    "axisLeft": {"minExtent": 20, "maxExtent": 20, "titlePadding": 1, "grid": false},
    "legend": {"labelColor": "#1a1a1a", "titleColor": "#1a1a1a"}
  }
}
